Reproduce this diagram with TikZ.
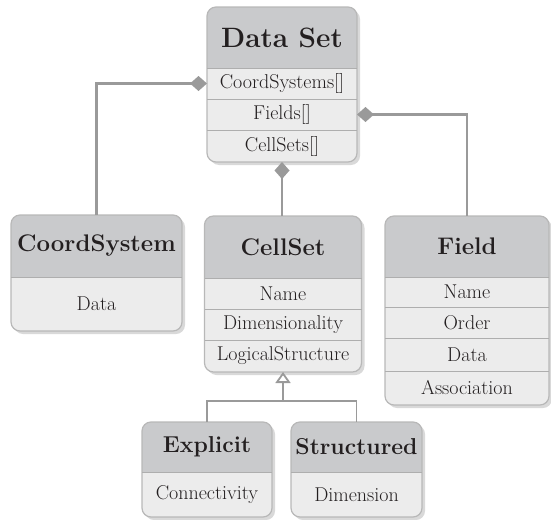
\documentclass[tikz,border=0pt]{standalone}
\usepackage{xcolor}
\usepackage{tikz}
\usetikzlibrary{positioning, backgrounds, arrows.meta, calc}

\definecolor{headgray}{HTML}{C9CACC}
\definecolor{rowgray}{HTML}{ECECEC}
\definecolor{framegray}{HTML}{B8B8B8}
\definecolor{linegray}{HTML}{9A9A9A}
\definecolor{inkgray}{HTML}{231F20}

% rounded class frame: header node, last member node
\newcommand{\classbox}[2]{%
  \fill[black!15, rounded corners=9pt] ([xshift=3pt,yshift=-3pt]#1.north west) rectangle ([xshift=3pt,yshift=-3pt]#2.south east);
  \begin{scope}
    \clip[rounded corners=9pt] (#1.north west) rectangle (#2.south east);
    \fill[rowgray] (#1.north west) rectangle (#2.south east);
    \fill[headgray] (#1.north west) rectangle (#1.south east);
  \end{scope}
  \draw[framegray, line width=1.2pt, rounded corners=9pt] (#1.north west) rectangle (#2.south east);
}

\begin{document}
\begin{tikzpicture}[x=1pt, y=-1pt,
        header/.style={
                inner sep=0pt, outer sep=0pt,
                minimum height=62pt,
                text=inkgray,
                font=\fontsize{24}{27}\selectfont\bfseries,
        },
        member/.style={
                inner sep=0pt, outer sep=0pt,
                minimum height=31pt,
                text=inkgray,
                font=\fontsize{20}{23}\selectfont,
        },
        sep/.style={linegray!80, line width=0.8pt},
        link/.style={linegray, line width=2.5pt, {Diamond[length=17pt, width=15pt]}-},
        generalization/.style={linegray, line width=1.8pt},
        ]
            \useasboundingbox (0,0) rectangle (551,519);

            % Data Set
            \begin{scope}[nodes={minimum width=150pt}]
                \node[header, minimum height=61pt, font=\fontsize{28}{31}\selectfont\bfseries, anchor=north] (ds) at (282,7) {Data Set};
                \node[member, below=0pt of ds] (ds1) {CoordSystems[]};
                \node[member, below=0pt of ds1] (ds2) {Fields[]};
                \node[member, minimum height=32pt, below=0pt of ds2] (ds3) {CellSets[]};
            \end{scope}

            % CoordSystem
            \begin{scope}[nodes={minimum width=171pt}]
                \node[header, anchor=north] (cs) at (96.5,215) {CoordSystem};
                \node[member, minimum height=54pt, below=0pt of cs] (cs1) {Data};
            \end{scope}

            % CellSet
            \begin{scope}[nodes={minimum width=157pt}]
                \node[header, anchor=north] (cl) at (283,216) {CellSet};
                \node[member, below=0pt of cl] (cl1) {Name};
                \node[member, below=0pt of cl1] (cl2) {Dimensionality};
                \node[member, minimum height=32pt, below=0pt of cl2] (cl3) {LogicalStructure};
            \end{scope}

            % Field
            \begin{scope}[nodes={minimum width=164pt}]
                \node[header, minimum height=61pt, anchor=north] (fd) at (467,216) {Field};
                \node[member, minimum height=30pt, below=0pt of fd] (fd1) {Name};
                \node[member, below=0pt of fd1] (fd2) {Order};
                \node[member, minimum height=33pt, below=0pt of fd2] (fd3) {Data};
                \node[member, minimum height=34pt, below=0pt of fd3] (fd4) {Association};
            \end{scope}

            % Explicit and Structured
            \begin{scope}[header/.append style={minimum height=50pt, font=\fontsize{23}{26}\selectfont\bfseries},
                          member/.append style={minimum height=45pt}]
                \node[header, minimum width=130pt, anchor=north] (ex) at (207,422) {Explicit};
                \node[member, minimum width=130pt, below=0pt of ex] (ex1) {Connectivity};
                \node[header, minimum width=131pt, anchor=north] (st) at (356.5,422) {Structured};
                \node[member, minimum width=131pt, below=0pt of st] (st1) {Dimension};
            \end{scope}

            \begin{scope}[on background layer]
                \classbox{ds}{ds3}
                \classbox{cs}{cs1}
                \classbox{cl}{cl3}
                \classbox{fd}{fd4}
                \classbox{ex}{ex1}
                \classbox{st}{st1}
                \foreach \m in {ds1,ds2,ds3,cs1,cl1,cl2,cl3,fd1,fd2,fd3,fd4,ex1,st1}
                    \draw[sep] (\m.north west) -- (\m.north east);
            \end{scope}

            % aggregation
            \draw[link] (ds1.west) -| (cs.north);
            \draw[link] (ds2.east) -| (fd.north);
            \draw[link] (ds3.south) -- (ds3.south |- cl.north);

            % inheritance
            \coordinate[below=29pt of cl3.south] (join);
            \draw[generalization, -{Triangle[length=11pt, width=15pt, fill=white]}] (join) -- (cl3.south);
            \draw[generalization] (ex.north) |- (join) -| (st.north);
        \end{tikzpicture}
\end{document}
